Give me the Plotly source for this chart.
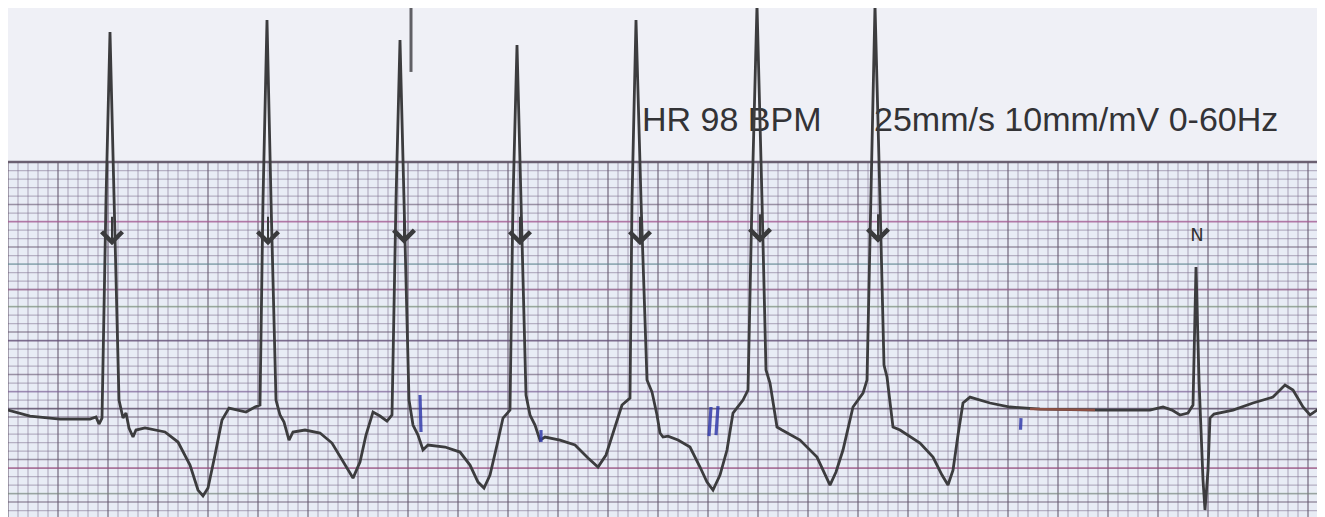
import numpy as np
import plotly.graph_objects as go

# ---------------- data read from the strip (time in s, amplitude in mV) ----------------
ecg_t = [0.000, 0.088, 0.208, 0.328, 0.352, 0.364, 0.376, 0.392, 0.408, 0.424, 0.444, 0.460, 0.472, 0.484,
         0.500, 0.512, 0.548, 0.628, 0.680, 0.728, 0.760, 0.780, 0.800, 0.828, 0.856, 0.884, 0.920, 0.952,
         0.988, 1.008,
         1.020, 1.036, 1.052, 1.072, 1.088, 1.104, 1.124, 1.140, 1.188, 1.248, 1.296, 1.340, 1.380, 1.408,
         1.432, 1.460, 1.488, 1.516, 1.536,
         1.552, 1.568, 1.584, 1.604, 1.620, 1.640, 1.660, 1.680, 1.748, 1.808, 1.848, 1.880, 1.904, 1.928,
         1.956, 1.980, 2.008,
         2.020, 2.036, 2.052, 2.072, 2.088, 2.108, 2.128, 2.148, 2.208, 2.268, 2.320, 2.360, 2.392, 2.424,
         2.456, 2.488,
         2.496, 2.512, 2.532, 2.556, 2.576, 2.596, 2.608, 2.620, 2.640, 2.680, 2.728, 2.768, 2.796, 2.820,
         2.848, 2.876, 2.900, 2.940, 2.960,
         2.976, 2.996, 3.016, 3.032, 3.048, 3.064, 3.076, 3.096, 3.168, 3.236, 3.268, 3.288, 3.312, 3.340,
         3.380, 3.420, 3.436,
         3.452, 3.468, 3.488, 3.504, 3.516, 3.528, 3.540, 3.568, 3.648, 3.700, 3.736, 3.760, 3.780, 3.800,
         3.820, 3.848, 3.928, 4.008, 4.128, 4.368, 4.568, 4.620, 4.656, 4.688, 4.720, 4.740,
         4.752, 4.764, 4.780, 4.788, 4.800, 4.808, 4.824, 4.900, 4.980, 5.060, 5.108, 5.140, 5.180, 5.208,
         5.248]
ecg_mv = [0.082, 0.012, -0.024, -0.024, 0.000, -0.082, -0.012, 2.553, 4.529, 2.553, 0.200, -0.012, 0.047,
          -0.129, -0.235, -0.153, -0.129, -0.176, -0.294, -0.565, -0.859, -0.929, -0.835, -0.447, -0.035,
          0.106, 0.082, 0.059, 0.118, 0.141,
          2.553, 4.671, 2.553, 0.200, 0.024, -0.059, -0.271, -0.176, -0.153, -0.188, -0.306, -0.529, -0.718,
          -0.529, -0.212, 0.059, 0.012, -0.047, 0.024,
          2.553, 4.435, 2.553, 0.200, -0.094, -0.212, -0.388, -0.329, -0.353, -0.412, -0.565, -0.765, -0.835,
          -0.682, -0.329, -0.012, 0.082,
          2.553, 4.376, 2.553, 0.259, 0.024, -0.094, -0.271, -0.235, -0.271, -0.329, -0.482, -0.588, -0.447,
          -0.153, 0.141, 0.224,
          2.553, 4.671, 2.553, 0.435, 0.294, 0.024, -0.188, -0.235, -0.224, -0.271, -0.353, -0.588, -0.765,
          -0.859, -0.682, -0.388, 0.047, 0.200, 0.318,
          2.553, 4.847, 2.553, 0.553, 0.400, 0.082, -0.118, -0.153, -0.271, -0.471, -0.682, -0.800, -0.647,
          -0.388, 0.118, 0.282, 0.435,
          2.553, 4.847, 2.553, 0.612, 0.471, 0.141, -0.118, -0.153, -0.306, -0.471, -0.682, -0.800, -0.624,
          -0.212, 0.165, 0.235, 0.165, 0.118, 0.094, 0.082, 0.082, 0.118, 0.082, 0.024, 0.047, 0.141,
          1.765, 0.435, -0.741, -1.094, -0.624, -0.012, 0.035, 0.082, 0.165, 0.235, 0.376, 0.318, 0.118,
          0.024, 0.106]

# detection arrows on the beats
arrow_t = [0.416, 1.040, 1.584, 2.048, 2.528, 3.008, 3.480]
arrow_mv = [2.02, 2.02, 2.04, 2.02, 2.02, 2.05, 2.05]

# printed header texts
header_texts = ["HR 98 BPM", "25mm/s 10mm/mV 0-60Hz"]
header_t = [2.536, 3.464]
header_mv = [3.47, 3.47]

# beat label
label_text = ["N"]
label_t = [4.756]
label_mv = [2.12]

# hand-drawn blue pen marks
pen_t = [1.648, 1.652, None, 2.132, 2.132, None, 2.812, 2.804, None, 2.840, 2.832, None, 4.052, 4.050]
pen_mv = [0.259, -0.176, None, -0.153, -0.294, None, 0.118, -0.224, None, 0.129, -0.212, None, -0.012, -0.150]

# reddish ink segment on the flat baseline
red_t = [4.088, 4.200, 4.348]
red_mv = [0.094, 0.088, 0.082]

# stray vertical pen stroke at the top
stroke_t = [1.612, 1.612]
stroke_mv = [4.847, 4.060]

# paper grid (0.04 s x 0.1 mV small boxes)
grid_t_end = 5.24
grid_mv_top = 3.0
grid_mv_bottom = -1.2
tinted_rows = [2.3, 1.8, 1.5, 1.3, 0.9, 0.3, 0.1, -0.6, -0.9]
tinted_colors = ["rgba(175,90,150,0.65)", "rgba(90,150,150,0.45)", "rgba(170,100,150,0.5)",
                 "rgba(120,160,110,0.45)", "rgba(100,80,120,0.7)", "rgba(130,100,160,0.5)",
                 "rgba(95,80,105,0.75)", "rgba(160,80,130,0.65)", "rgba(120,150,120,0.45)"]

# page has an 8px body margin, the figure fills the rest
X_RANGE = [0.0, 5.268]
Y_RANGE = [-1.176, 4.812]

fig = go.Figure()


def seg_lines(coords, span, vertical):
    xs, ys = [], []
    for c in coords:
        if vertical:
            xs += [c, c, None]
            ys += [span[0], span[1], None]
        else:
            xs += [span[0], span[1], None]
            ys += [c, c, None]
    return xs, ys


vt = np.round(np.arange(0, grid_t_end + 1e-9, 0.04), 3)
hm = np.round(np.arange(-1.1, grid_mv_top + 1e-9, 0.1), 2)
minor_v = [v for i, v in enumerate(vt) if i % 5 != 0]
major_v = [v for i, v in enumerate(vt) if i % 5 == 0]
minor_h = [h for h in hm if abs(round(h * 2) - h * 2) > 1e-6]
major_h = [h for h in hm if abs(round(h * 2) - h * 2) <= 1e-6]

for lines, vert, col, w in [
    (minor_v, True, "rgba(130,115,145,0.5)", 1.2),
    (minor_h, False, "rgba(130,115,145,0.5)", 1.2),
    (major_v, True, "rgba(100,85,110,0.7)", 1.5),
    (major_h, False, "rgba(100,85,110,0.6)", 1.4),
]:
    span = (grid_mv_bottom, grid_mv_top) if vert else (0, grid_t_end)
    xs, ys = seg_lines(lines, span, vert)
    fig.add_trace(go.Scatter(x=xs, y=ys, mode="lines", line=dict(color=col, width=w),
                             hoverinfo="skip"))

for r, c in zip(tinted_rows, tinted_colors):
    fig.add_trace(go.Scatter(x=[0, grid_t_end], y=[r, r], mode="lines",
                             line=dict(color=c, width=1.8), hoverinfo="skip"))

# top border of the grid
fig.add_trace(go.Scatter(x=[0, grid_t_end], y=[grid_mv_top, grid_mv_top], mode="lines",
                         line=dict(color="rgba(100,88,105,0.9)", width=2.4), hoverinfo="skip"))

# header text (under the trace)
fig.add_trace(go.Scatter(x=header_t, y=header_mv, text=header_texts, mode="text",
                         textposition="middle right",
                         textfont=dict(family="Liberation Sans, Arial, sans-serif", size=34,
                                       color="#333336"),
                         hoverinfo="skip"))

# stray stroke
fig.add_trace(go.Scatter(x=stroke_t, y=stroke_mv, mode="lines",
                         line=dict(color="rgba(70,70,75,0.85)", width=3), hoverinfo="skip"))

# ECG trace
fig.add_trace(go.Scatter(x=ecg_t, y=ecg_mv, mode="lines",
                         line=dict(color="#3c3c3e", width=2.8), hoverinfo="skip"))

fig.add_trace(go.Scatter(x=red_t, y=red_mv, mode="lines",
                         line=dict(color="rgba(165,85,70,0.75)", width=2.6), hoverinfo="skip"))

fig.add_trace(go.Scatter(x=pen_t, y=pen_mv, mode="lines",
                         line=dict(color="rgba(50,60,170,0.85)", width=3.2), hoverinfo="skip"))

fig.add_trace(go.Scatter(x=label_t, y=label_mv, text=label_text, mode="text",
                         textposition="middle center",
                         textfont=dict(family="DejaVu Sans, sans-serif", size=18, color="#333333"),
                         hoverinfo="skip"))

for t, m in zip(arrow_t, arrow_mv):
    fig.add_annotation(x=t, y=m, ax=0, ay=-30, text="", showarrow=True, arrowhead=4,
                       arrowsize=2.0, arrowwidth=2, arrowcolor="#3a3a3c")

fig.update_layout(
    width=1317, height=509,
    margin=dict(l=0, r=0, t=0, b=0),
    paper_bgcolor="#eff0f6",
    plot_bgcolor="#eff0f6",
    showlegend=False,
    xaxis=dict(range=X_RANGE, visible=False, fixedrange=True),
    yaxis=dict(range=Y_RANGE, visible=False, fixedrange=True),
    shapes=[
        dict(type="rect", xref="x", yref="y", x0=0, x1=grid_t_end, y0=grid_mv_bottom, y1=grid_mv_top,
             fillcolor="#e8ecf5", line=dict(width=0), layer="below"),
    ],
)

fig.write_html("out.html")
